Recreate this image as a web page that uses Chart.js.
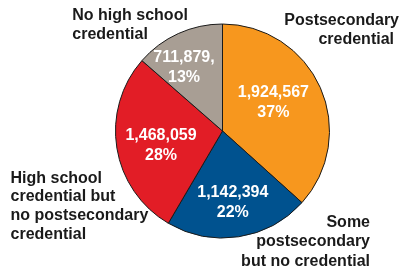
<!DOCTYPE html>
<html>
<head>
<meta charset="utf-8">
<script src="https://cdn.jsdelivr.net/npm/chart.js@4/dist/chart.umd.min.js"></script>
<style>
  html, body { margin: 0; padding: 0; background: #fff; }
  canvas { display: block; }
</style>
</head>
<body>
<canvas id="c" width="401" height="269"></canvas>
<script>
// ---- Data ----
const categories = [
  "Postsecondary credential",
  "Some postsecondary but no credential",
  "High school credential but no postsecondary credential",
  "No high school credential"
];
const values = [1924567, 1142394, 1468059, 711879];
const percentLabels = ["37%", "22%", "28%", "13%"];
const valueLabels = ["1,924,567", "1,142,394", "1,468,059", "711,879,"];
const outerLabelLines = [
  ["Postsecondary", "credential"],
  ["Some", "postsecondary", "but no credential"],
  ["High school", "credential but", "no postsecondary", "credential"],
  ["No high school", "credential"]
];

// ---- Styles / layout ----
const colors = ["#F7971E", "#00528F", "#E21D26", "#A89E94"];
const FONT = 'bold 16px "Liberation Sans", Arial, sans-serif';
// inner label placement: radius fraction of outer radius, angle offset (deg) from slice mid
const innerPlace = [
  { r: 0.545, da: -5.3 },
  { r: 0.68, da: 0.6 },
  { r: 0.59, da: -4 },
  { r: 0.69, da: -7 }
];
// outer label placement (canvas-relative): x, first line y, line step, align, per-line x tweaks
const outerPlace = [
  { xs: [399, 394], y: 20.7, step: 18.7, align: "right" },
  { xs: [370, 370, 370], y: 222.7, step: 19.2, align: "right" },
  { xs: [10.5, 10.5, 10.5, 10.5], y: 178.3, step: 18.7, align: "left" },
  { xs: [72.3, 72.3], y: 15.7, step: 18.7, align: "left" }
];

const labelPlugin = {
  id: "pieLabels",
  afterDatasetsDraw(chart) {
    const ctx = chart.ctx;
    const meta = chart.getDatasetMeta(0);
    ctx.save();
    ctx.font = FONT;
    ctx.textBaseline = "middle";
    meta.data.forEach((arc, i) => {
      const p = arc.getProps(["x", "y", "startAngle", "endAngle", "outerRadius"], true);
      const mid = (p.startAngle + p.endAngle) / 2 + innerPlace[i].da * Math.PI / 180;
      const rr = p.outerRadius * innerPlace[i].r;
      const cx = p.x + Math.cos(mid) * rr;
      const cy = p.y + Math.sin(mid) * rr;
      ctx.fillStyle = "#ffffff";
      ctx.textAlign = "center";
      ctx.fillText(valueLabels[i], cx, cy - 10);
      ctx.fillText(percentLabels[i], cx, cy + 10);

      const o = outerPlace[i];
      ctx.fillStyle = "#1a1a1a";
      ctx.textAlign = o.align;
      outerLabelLines[i].forEach((line, j) => {
        ctx.fillText(line, o.xs[j], o.y + j * o.step);
      });
    });
    ctx.restore();
  }
};

new Chart(document.getElementById("c"), {
  type: "pie",
  data: {
    labels: categories,
    datasets: [{
      data: values,
      backgroundColor: colors,
      borderColor: "#1a1a1a",
      borderWidth: 1
    }]
  },
  options: {
    responsive: false,
    animation: false,
    layout: { padding: { left: 115, right: 71, top: 23, bottom: 30 } },
    plugins: {
      legend: { display: false },
      tooltip: { enabled: false }
    }
  },
  plugins: [labelPlugin]
});
</script>
</body>
</html>
